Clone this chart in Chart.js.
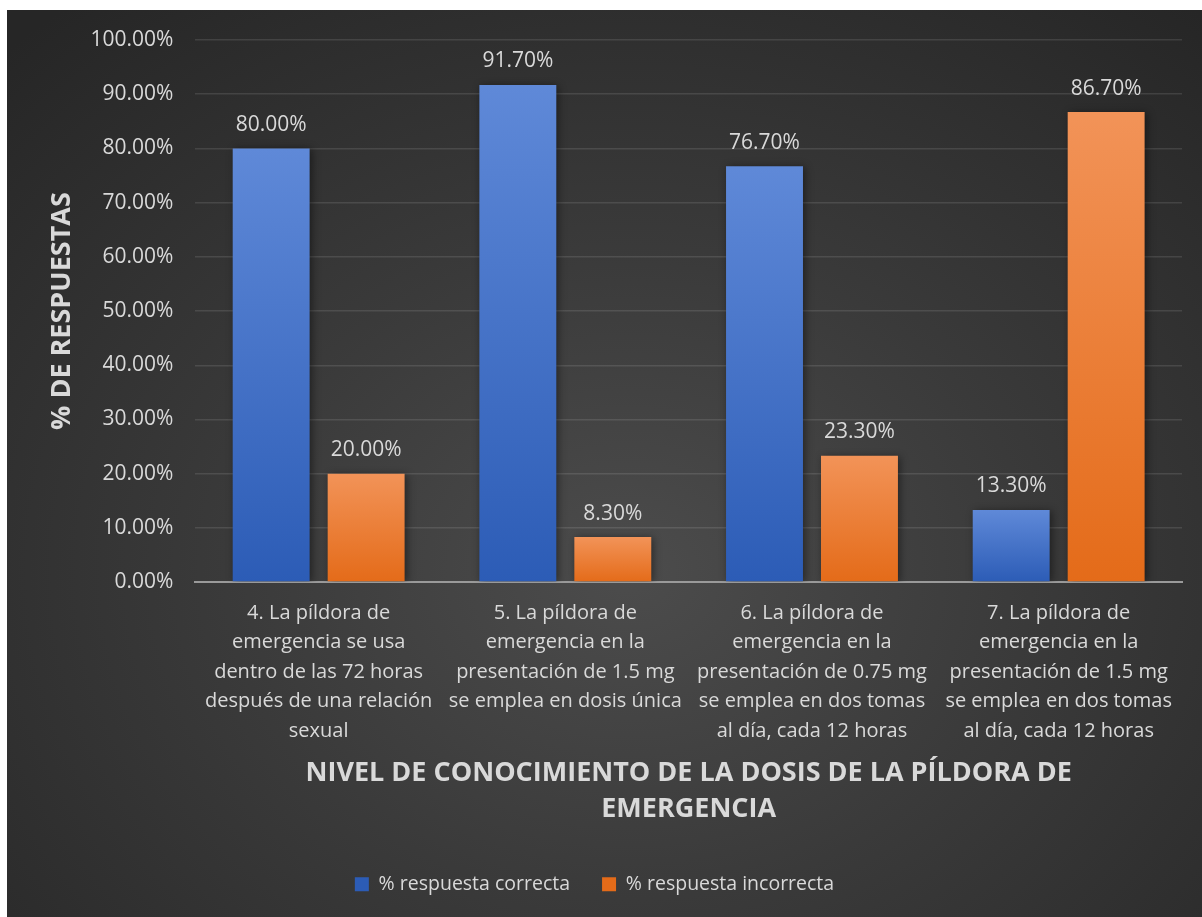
<!DOCTYPE html>
<html>
<head>
<meta charset="utf-8">
<script src="https://cdn.jsdelivr.net/npm/chart.js@4.4.1/dist/chart.umd.min.js"></script>
<style>
  html,body{margin:0;padding:0;background:#fff;}
  .wrap{
    position:absolute; left:7px; top:10px; width:1195px; height:907px;
    background: radial-gradient(ellipse 75% 80% at 52% 62%, #4c4c4c 0%, #3a3a3a 45%, #262626 100%);
  }
  canvas{display:block;}
</style>
</head>
<body>
<div class="wrap"><canvas id="chart" width="1195" height="907"></canvas></div>
<script>
/* =========================
   Data
========================= */
const categories = [
  ["4. La píldora de", "emergencia se usa", "dentro de las 72 horas", "después de una relación", "sexual"],
  ["5. La píldora de", "emergencia en la", "presentación de 1.5 mg", "se emplea en dosis única"],
  ["6. La píldora de", "emergencia en la", "presentación de 0.75 mg", "se emplea en dos tomas", "al día, cada 12 horas"],
  ["7. La píldora de", "emergencia en la", "presentación de 1.5 mg", "se emplea en dos tomas", "al día, cada 12 horas"]
];
const correctas   = [80.0, 91.7, 76.7, 13.3];
const incorrectas = [20.0, 8.3, 23.3, 86.7];
const seriesNames = ['% respuesta correcta', '% respuesta incorrecta'];
const yTitle = '% DE RESPUESTAS';
const xTitle = ['NIVEL DE CONOCIMIENTO DE LA DOSIS DE LA PÍLDORA DE', 'EMERGENCIA'];

const FONT = '"Open Sans", "Noto Sans", sans-serif';
const TXT  = '#d9d9d9';

/* =========================
   Bar gradient (per bar, lighter on top)
========================= */
function barFill(top, bottom, solid){
  return (c)=>{
    const chart = c.chart;
    if(c.type !== 'data' || !chart.chartArea || !chart.scales.y) return solid;
    const ys = chart.scales.y;
    const y0 = ys.getPixelForValue(c.raw);
    const y1 = ys.getPixelForValue(0);
    if(!isFinite(y0) || !isFinite(y1) || y0 === y1) return solid;
    const g = chart.ctx.createLinearGradient(0, y0, 0, y1);
    g.addColorStop(0, top);
    g.addColorStop(1, bottom);
    return g;
  };
}

/* soft shadow behind bars */
const barShadow = {
  id:'barShadow',
  beforeDatasetsDraw(chart){
    const ctx = chart.ctx;
    ctx.save();
    ctx.shadowColor = 'rgba(0,0,0,0.45)';
    ctx.shadowBlur = 8;
    ctx.shadowOffsetX = 2;
    ctx.shadowOffsetY = 1;
  },
  afterDatasetsDraw(chart){ chart.ctx.restore(); }
};

/* value labels above bars */
const valueLabels = {
  id:'valueLabels',
  afterDatasetsDraw(chart){
    const ctx = chart.ctx;
    ctx.save();
    ctx.font = '21px ' + FONT;
    ctx.fillStyle = TXT;
    ctx.textAlign = 'center';
    ctx.textBaseline = 'bottom';
    chart.data.datasets.forEach((ds, i)=>{
      const meta = chart.getDatasetMeta(i);
      meta.data.forEach((el, j)=>{
        ctx.fillText(ds.data[j].toFixed(2) + '%', el.x, el.y - 13);
      });
    });
    ctx.restore();
  }
};

new Chart(document.getElementById('chart'), {
  type:'bar',
  data:{
    labels: categories,
    datasets:[
      { label: seriesNames[0], data: correctas,
        backgroundColor: barFill('#5f89d8', '#2c5cb6', '#4472c4') },
      { label: seriesNames[1], data: incorrectas,
        backgroundColor: barFill('#f29358', '#e46b19', '#ed7d31') }
    ]
  },
  options:{
    responsive:false,
    animation:false,
    devicePixelRatio:1,
    datasets:{ bar:{ barPercentage:0.81, categoryPercentage:0.77 } },
    layout:{ padding:{ top:6, right:20, left:0, bottom:13 } },
    scales:{
      x:{
        grid:{ display:false },
        border:{ display:true, color:'#9a9a9a', width:2 },
        ticks:{ color:TXT, font:{ family:FONT, size:20, lineHeight:1.475 }, padding:8, maxRotation:0, autoSkip:false },
        title:{
          display:true, text:xTitle, color:TXT,
          font:{ family:FONT, size:27, weight:'bold', lineHeight:1.35 },
          padding:{ top:1, bottom:15 }
        }
      },
      y:{
        min:0, max:100,
        grid:{ color:'rgba(255,255,255,0.11)', lineWidth:1.5, drawTicks:false },
        border:{ display:false },
        ticks:{ stepSize:10, color:TXT, font:{ family:FONT, size:21, lineHeight:0.76 }, padding:22,
          callback:(v)=> v.toFixed(2) + '%' },
        title:{
          display:true, text:yTitle, color:TXT,
          font:{ family:FONT, size:27, weight:'bold' },
          padding:{ top:39, bottom:-10 }
        }
      }
    },
    plugins:{
      legend:{
        position:'bottom',
        labels:{ color:TXT, font:{ family:FONT, size:19.5 }, boxWidth:14, boxHeight:14, padding:32 }
      },
      tooltip:{ enabled:false }
    }
  },
  plugins:[barShadow, valueLabels]
});
</script>
</body>
</html>
